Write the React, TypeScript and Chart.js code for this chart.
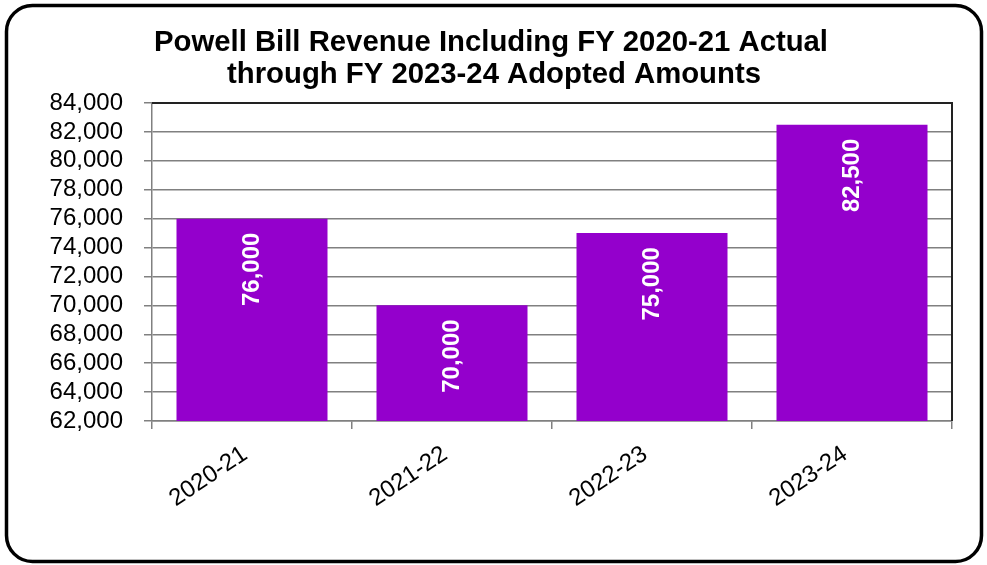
import React, { useEffect, useRef } from "react";
import { Chart, registerables } from "chart.js";

Chart.register(...registerables);

const categories = ["2020-21", "2021-22", "2022-23", "2023-24"];
const revenue = [76000, 70000, 75000, 82500];
const titleLines = [
  "Powell Bill Revenue Including FY 2020-21 Actual",
  "through FY 2023-24 Adopted Amounts",
];
const yMin = 62000;
const yMax = 84000;
const yStep = 2000;

const fmt = (v: number) => v.toLocaleString("en-US");

const framePlugin = {
  id: "frame",
  afterDraw(chart: any) {
    const ctx = chart.ctx;
    const a = chart.chartArea;
    ctx.save();
    // plot area top & right border
    ctx.strokeStyle = "#222";
    ctx.lineWidth = 2;
    ctx.beginPath();
    ctx.moveTo(a.left, a.top);
    ctx.lineTo(a.right, a.top);
    ctx.lineTo(a.right, a.bottom);
    ctx.stroke();
    // outer rounded border
    ctx.strokeStyle = "#000";
    ctx.lineWidth = 3.5;
    ctx.beginPath();
    (ctx as any).roundRect(6.5, 5.5, 975, 556, 26);
    ctx.stroke();
    // title
    ctx.fillStyle = "#000";
    ctx.font = "bold 29.3px 'Liberation Sans', Arial, sans-serif";
    ctx.textAlign = "center";
    ctx.textBaseline = "middle";
    ctx.fillText(titleLines[0], 491, 43);
    ctx.fillText(titleLines[1], 494, 75);
    ctx.restore();
  },
  afterDatasetsDraw(chart: any) {
    const ctx = chart.ctx;
    const meta = chart.getDatasetMeta(0);
    const data = chart.data.datasets[0].data as number[];
    ctx.save();
    ctx.fillStyle = "#fff";
    ctx.font = "bold 24px 'Liberation Sans', Arial, sans-serif";
    ctx.textAlign = "right";
    ctx.textBaseline = "middle";
    meta.data.forEach((el: any, i: number) => {
      ctx.save();
      ctx.translate(el.x, el.y + 14);
      ctx.rotate(-Math.PI / 2);
      ctx.fillText(fmt(data[i]), 0, 0);
      ctx.restore();
    });
    ctx.restore();
  },
};

export default function App() {
  const ref = useRef<HTMLCanvasElement>(null);
  useEffect(() => {
    document.body.style.margin = "0";
    const chart = new Chart(ref.current as HTMLCanvasElement, {
      type: "bar",
      data: {
        labels: categories,
        datasets: [
          {
            data: revenue,
            backgroundColor: "#9400CC",
            borderWidth: 0,
            categoryPercentage: 1,
            barPercentage: 0.755,
          },
        ],
      },
      options: {
        responsive: false,
        animation: false,
        layout: { padding: { top: 103, right: 35, left: 0, bottom: 0 } },
        plugins: {
          legend: { display: false },
          title: { display: false },
          tooltip: { enabled: false },
        },
        scales: {
          x: {
            afterFit: (s: any) => {
              s.height = 144;
            },
            grid: {
              offset: true,
              drawOnChartArea: false,
              drawTicks: true,
              tickLength: 8,
              color: "#808080",
              lineWidth: 1.5,
            },
            border: { color: "#808080", width: 1.5 },
            ticks: {
              color: "#000",
              font: { family: "'Liberation Sans', Arial, sans-serif", size: 24 },
              minRotation: 34,
              maxRotation: 34,
              padding: 11,
              labelOffset: -7,
            },
          },
          y: {
            min: yMin,
            max: yMax,
            afterFit: (s: any) => {
              s.width = 152;
            },
            grid: {
              color: "#808080",
              lineWidth: 1.5,
              tickLength: 8,
            },
            border: { color: "#808080", width: 1.5 },
            ticks: {
              stepSize: yStep,
              autoSkip: false,
              color: "#000",
              padding: 21,
              font: { family: "'Liberation Sans', Arial, sans-serif", size: 24 },
              callback: (v: any) => fmt(Number(v)),
            },
          },
        },
      },
      plugins: [framePlugin],
    });
    return () => chart.destroy();
  }, []);
  return <canvas ref={ref} width={987} height={565} style={{ display: "block" }} />;
}
